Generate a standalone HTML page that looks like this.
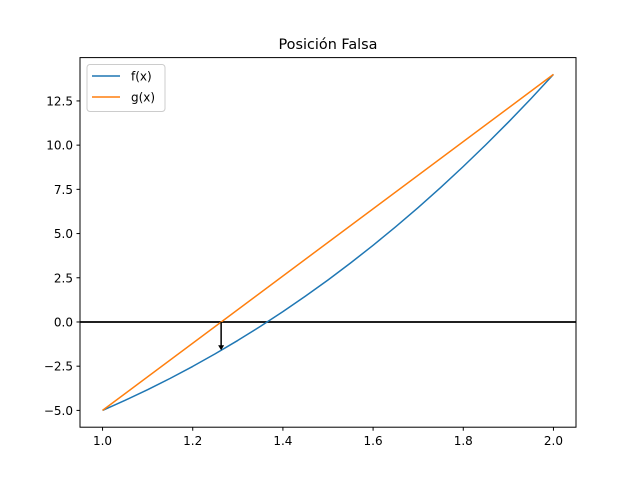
<!DOCTYPE html>
<html><head><meta charset="utf-8"><style>
body{margin:0;background:#fff}
svg{font-family:"DejaVu Sans","Liberation Sans",sans-serif;display:block}
</style></head><body>
<svg id="chart" width="640" height="480">
<rect width="640" height="480" fill="#fff"/>
<text x="328" y="49" text-anchor="middle" font-size="14.4">Posición Falsa</text>
<g id="plot"></g>
<rect x="80" y="57.6" width="496" height="369.6" fill="none" stroke="#000" stroke-width="1"/>
<g>
<rect x="87" y="64.5" width="78" height="47" rx="3" fill="#fff" fill-opacity="0.8" stroke="#ccc"/>
<g><line x1="92" y1="76" x2="120" y2="76" stroke="#1f77b4" stroke-width="1.5"/><text x="131" y="80.5" font-size="12">f(x)</text></g>
<g><line x1="92" y1="97" x2="120" y2="97" stroke="#ff7f0e" stroke-width="1.5"/><text x="131" y="101.5" font-size="12">g(x)</text></g>
</g>
</svg>
<script>
const fX=[1.0,1.05,1.1,1.15,1.2,1.25,1.3,1.35,1.4,1.45,1.5,1.55,1.6,1.65,1.7,1.75,1.8,1.85,1.9,1.95,2.0];
const fY=[-5,-4.432,-3.829,-3.189,-2.512,-1.797,-1.043,-0.250,0.584,1.459,2.375,3.334,4.336,5.382,6.473,7.609,8.792,10.022,11.299,12.625,14];
const gX=[1.0,2.0];
const gY=[-5,14];
const xTicks=[1.0,1.2,1.4,1.6,1.8,2.0];
const xTickLabels=["1.0","1.2","1.4","1.6","1.8","2.0"];
const yTicks=[-5,-2.5,0,2.5,5,7.5,10,12.5];
const yTickLabels=["−5.0","−2.5","0.0","2.5","5.0","7.5","10.0","12.5"];
const arrowX=[1.263];
const arrowY=[-1.60];
const xs=v=>80+(v-0.95)/1.1*496;
const ys=v=>427.2-(v+5.95)/20.9*369.6;
const NS="http://www.w3.org/2000/svg";
const g=document.getElementById('plot');
function mk(t,a){const e=document.createElementNS(NS,t);for(const k in a)e.setAttribute(k,a[k]);g.appendChild(e);return e;}
xTicks.forEach((v,i)=>{
 const t=mk('line',{x1:xs(v),x2:xs(v),y1:427.2,y2:430.7,stroke:'#000'});
 
 
 const l=mk('text',{x:xs(v),y:445,'text-anchor':'middle','font-size':'12'});
 l.textContent=xTickLabels[i];
 
 
});
yTicks.forEach((v,i)=>{
 const t=mk('line',{x1:76.5,x2:80,y1:ys(v),y2:ys(v),stroke:'#000'});
 
 
 const l=mk('text',{x:73,y:ys(v)+4.5,'text-anchor':'end','font-size':'12'});
 l.textContent=yTickLabels[i];
 
 
});
const zl=mk('line',{x1:80,x2:576,y1:ys(0),y2:ys(0),stroke:'#000','stroke-width':1.8});


const fp=mk('polyline',{points:fX.map((x,i)=>xs(x)+','+ys(fY[i])).join(' '),fill:'none',stroke:'#1f77b4','stroke-width':1.5,'stroke-linejoin':'round'});


const gp=mk('polyline',{points:gX.map((x,i)=>xs(x)+','+ys(gY[i])).join(' '),fill:'none',stroke:'#ff7f0e','stroke-width':1.5});


const ax=xs(arrowX[0]),ay=ys(arrowY[0]);
const al=mk('line',{x1:ax,x2:ax,y1:ys(0),y2:ay-4,stroke:'#000','stroke-width':1.5});


const ah=mk('polygon',{points:`${ax-3},${ay-5} ${ax+3},${ay-5} ${ax},${ay}`,fill:'#000'});


</script>
</body></html>
